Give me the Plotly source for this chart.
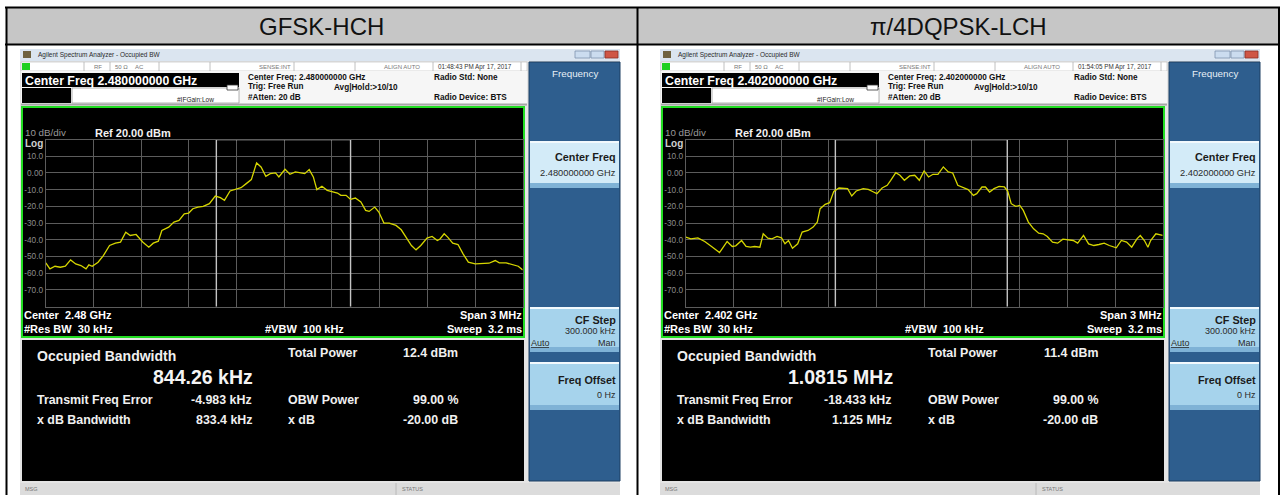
import plotly.graph_objects as go

W, H = 1284, 495
FONT = "Arial, Liberation Sans, Helvetica, sans-serif"

# ---------------- data ----------------
panel_titles = ["GFSK-HCH", "π/4DQPSK-LCH"]
center_freq_text = ["2.480000000 GHz", "2.402000000 GHz"]
center_short = ["2.48 GHz", "2.402 GHz"]
timestamps = ["01:48:43 PM Apr 17, 2017", "01:54:05 PM Apr 17, 2017"]
total_power = ["12.4 dBm", "11.4 dBm"]
occupied_bw_text = ["844.26 kHz", "1.0815 MHz"]
freq_error_text = ["-4.983 kHz", "-18.433 kHz"]
xdb_bw_text = ["833.4 kHz", "1.125 MHz"]
obw_mhz = [0.84426, 1.0815]
freq_err_mhz = [-0.004983, -0.018433]

span_mhz = 3.0
ref_level_dbm = 20
bottom_level_dbm = -80
ytick_vals = [10, 0, -10, -20, -30, -40, -50, -60, -70]
ytick_text = ["10.0", "0.00", "-10.0", "-20.0", "-30.0", "-40.0", "-50.0", "-60.0", "-70.0"]

gfsk_offset_mhz = [
    -1.500, -1.474, -1.442, -1.409, -1.377, -1.344, -1.312, -1.279, -1.247, -1.229,
    -1.208, -1.171, -1.138, -1.099, -1.062, -1.030, -0.997, -0.969, -0.932, -0.889,
    -0.852, -0.824, -0.792, -0.770, -0.727, -0.694, -0.662, -0.629, -0.601, -0.575,
    -0.543, -0.510, -0.471, -0.434, -0.402, -0.376, -0.341, -0.304, -0.272, -0.239,
    -0.207, -0.174, -0.146, -0.116, -0.088, -0.055, -0.034, 0.005, 0.036, 0.070,
    0.107, 0.129, 0.157, 0.183, 0.205, 0.237, 0.270, 0.302, 0.335, 0.356,
    0.389, 0.417, 0.447, 0.482, 0.512, 0.534, 0.569, 0.595, 0.627, 0.660,
    0.703, 0.736, 0.768, 0.800, 0.829, 0.859, 0.898, 0.930, 0.963, 0.980,
    1.006, 1.028, 1.060, 1.093, 1.125, 1.158, 1.201, 1.244, 1.288, 1.327,
    1.353, 1.396, 1.439, 1.472, 1.500,
]
gfsk_level_dbm = [
    -53.8, -57.4, -55.8, -56.4, -55.8, -52.0, -54.4, -55.4, -57.4, -55.0,
    -55.8, -53.4, -49.4, -43.4, -42.0, -41.4, -35.4, -37.4, -36.8, -41.4,
    -44.4, -42.0, -40.8, -34.4, -32.4, -29.4, -28.4, -24.4, -24.0, -21.4,
    -20.4, -20.0, -18.4, -13.8, -14.8, -16.4, -10.8, -9.8, -8.8, -6.4,
    -4.0, 6.0, 3.6, -2.0, -0.4, 0.0, -2.4, 2.2, -0.8, 0.6,
    0.0, -0.4, 2.0, -2.4, -10.0, -8.0, -10.4, -11.0, -12.0, -13.4,
    -13.4, -15.8, -15.0, -17.4, -22.4, -23.0, -20.4, -23.4, -30.0, -30.0,
    -31.4, -34.0, -38.4, -43.4, -46.0, -43.4, -39.0, -38.0, -40.4, -39.5,
    -36.4, -38.4, -42.0, -42.8, -48.4, -53.4, -54.4, -54.0, -54.0, -52.4,
    -53.8, -53.8, -55.0, -55.8, -58.0,
]

dqpsk_offset_mhz = [
    -1.500, -1.468, -1.424, -1.381, -1.338, -1.288, -1.262, -1.240, -1.208, -1.186,
    -1.149, -1.121, -1.093, -1.067, -1.034, -1.013, -0.984, -0.958, -0.926, -0.898,
    -0.876, -0.854, -0.829, -0.796, -0.768, -0.731, -0.699, -0.673, -0.655, -0.623,
    -0.595, -0.569, -0.536, -0.504, -0.482, -0.456, -0.428, -0.384, -0.352, -0.319,
    -0.298, -0.265, -0.233, -0.211, -0.179, -0.153, -0.125, -0.092, -0.060, -0.031,
    -0.001, 0.027, 0.055, 0.086, 0.120, 0.151, 0.179, 0.211, 0.244, 0.276,
    0.309, 0.330, 0.363, 0.385, 0.411, 0.439, 0.471, 0.504, 0.525, 0.547,
    0.575, 0.601, 0.623, 0.655, 0.688, 0.720, 0.748, 0.774, 0.807, 0.839,
    0.872, 0.904, 0.937, 0.965, 1.002, 1.034, 1.067, 1.099, 1.132, 1.164,
    1.208, 1.240, 1.273, 1.305, 1.338, 1.359, 1.385, 1.407, 1.424, 1.457,
    1.500,
]
dqpsk_level_dbm = [
    -38.4, -39.4, -38.8, -41.0, -44.0, -47.6, -44.0, -41.0, -44.0, -43.6,
    -40.4, -44.0, -44.4, -44.0, -44.4, -36.4, -39.0, -39.4, -38.0, -38.8,
    -42.4, -40.4, -45.0, -42.4, -35.4, -34.4, -32.4, -29.4, -21.4, -18.8,
    -17.8, -11.0, -9.0, -9.4, -9.4, -13.8, -10.8, -9.4, -9.8, -11.4,
    -12.4, -9.0, -7.4, -4.4, 0.2, -1.4, -4.4, -1.8, -1.4, -4.4,
    1.2, -2.4, -0.8, -0.8, 3.6, 0.6, 0.0, -7.4, -8.8, -10.0,
    -13.4, -12.4, -8.4, -8.4, -11.4, -9.4, -8.0, -8.4, -10.8, -18.4,
    -20.0, -19.4, -22.4, -29.4, -33.4, -36.0, -36.4, -38.0, -41.4, -42.0,
    -39.6, -40.0, -40.4, -42.0, -37.4, -42.4, -43.4, -42.8, -42.0, -43.4,
    -44.8, -40.4, -41.4, -44.4, -39.4, -37.4, -40.4, -44.4, -40.4, -36.4,
    -37.4,
]
offsets = [gfsk_offset_mhz, dqpsk_offset_mhz]
levels = [gfsk_level_dbm, dqpsk_level_dbm]

# ---------------- helpers ----------------
shapes, annotations = [], []


def X(px):
    return px / W


def Y(py):
    return 1 - py / H


def rect(x0, y0, x1, y1, fill, line=None, lw=0, layer="below"):
    shapes.append(dict(type="rect", xref="paper", yref="paper",
                       x0=X(x0), x1=X(x1), y0=Y(y1), y1=Y(y0),
                       fillcolor=fill, layer=layer,
                       line=dict(width=lw, color=line or fill)))


def hline(x0, x1, y, color, w=1, layer="below"):
    shapes.append(dict(type="line", xref="paper", yref="paper",
                       x0=X(x0), x1=X(x1), y0=Y(y), y1=Y(y), layer=layer,
                       line=dict(width=w, color=color)))


def vline(x, y0, y1, color, w=1, layer="below"):
    shapes.append(dict(type="line", xref="paper", yref="paper",
                       x0=X(x), x1=X(x), y0=Y(y0), y1=Y(y1), layer=layer,
                       line=dict(width=w, color=color)))


def text(x, y, s, size, color="white", anchor="left", bold=False):
    if bold:
        s = "<b>" + s + "</b>"
    annotations.append(dict(x=X(x), y=Y(y), xref="paper", yref="paper", text=s,
                            showarrow=False, xanchor=anchor, yanchor="middle",
                            borderpad=0, font=dict(size=size, color=color, family=FONT)))


NB = "\u00a0"

# ---------------- table frame ----------------
rect(6, 8, 1279, 44, "#c6c6c6")
hline(5, 1280, 7.5, "black", 2)
hline(5, 1280, 44.5, "black", 2)
vline(6.5, 7, 495, "black", 2)
vline(1279, 7, 495, "black", 2)
vline(637.5, 7, 495, "black", 2)
text(321.5, 26.5, panel_titles[0], 24, "#111", "center")
text(958.5, 26.5, panel_titles[1], 24, "#111", "center")

fig = go.Figure()

GRID_L, GRID_R, GRID_T, GRID_B = 45.8, 522.7, 139.5, 306.7

for i in range(2):
    dx = 640 * i
    # analyzer background
    rect(20 + dx, 49, 620 + dx, 495, "#e4e4e4")
    # window title bar
    rect(20 + dx, 49, 620 + dx, 61, "#dbe5f0")
    rect(23 + dx, 51, 31 + dx, 58, "#6f6240")
    text(37 + dx, 54.5, "Agilent Spectrum Analyzer - Occupied BW", 6.5, "#2a2a2a")
    rect(575 + dx, 51, 590 + dx, 58, "#cbdcef", "#7f93ad", 0.8)
    rect(591 + dx, 51, 604 + dx, 58, "#cbdcef", "#7f93ad", 0.8)
    rect(605 + dx, 51, 618 + dx, 58, "#cf5646", "#8a2f25", 0.8)
    # status row
    rect(21 + dx, 62, 527 + dx, 71, "#ffffff", "#b8b8b8", 0.6)
    rect(22 + dx, 63, 30 + dx, 70, "#1fd01f")
    for sx in [84, 110, 159, 210, 294, 355, 433, 521]:
        vline(sx + dx, 62, 71, "#b0b0b0", 0.8)
    text(98 + dx, 66.8, "RF", 6, "#777", "center")
    text(114 + dx, 66.8, "50 Ω", 6, "#777")
    text(134 + dx, 66.8, "AC", 6, "#777")
    text(292 + dx, 66.8, "SENSE:INT", 6, "#777", "right")
    text(421 + dx, 66.8, "ALIGN AUTO", 6, "#777", "right")
    text(437 + dx, 66.8, timestamps[i], 6.3, "#333")
    # info area
    rect(21 + dx, 71, 527 + dx, 104, "#f6f6f6")
    rect(22 + dx, 73, 239 + dx, 87, "black")
    text(24 + dx, 80.5, "Center Freq " + center_freq_text[i], 12.3, "white", bold=True)
    rect(22 + dx, 88, 71 + dx, 103, "black")
    rect(72 + dx, 88, 239 + dx, 103, "#ffffff", "#a0a0a0", 0.8)
    text(215 + dx, 99.5, "#IFGain:Low", 6.5, "#222", "right")
    rect(227 + dx, 85, 238 + dx, 90, "#ffffff", "#333", 0.8)
    text(247 + dx, 77, "Center Freq: " + center_freq_text[i], 8.2, "#111", bold=True)
    text(247 + dx, 86.5, "Trig: Free Run", 8.2, "#111", bold=True)
    text(333 + dx, 87.5, "Avg|Hold:>10/10", 8.2, "#111", bold=True)
    text(247 + dx, 97, "#Atten: 20 dB", 8.2, "#111", bold=True)
    text(433 + dx, 77, "Radio Std: None", 8.2, "#111", bold=True)
    text(433 + dx, 97.5, "Radio Device: BTS", 8.2, "#111", bold=True)
    rect(21 + dx, 103.5, 527 + dx, 105.5, "#a6a6a6")
    # green framed trace window
    rect(22 + dx, 107, 524 + dx, 337, "black", "#22dd22", 2)
    text(24 + dx, 133, "10 dB/div", 9.8, "#9a9a9a")
    text(94 + dx, 132.5, "Ref 20.00 dBm", 11, "#f2f2f2", bold=True)
    text(24 + dx, 143, "Log", 10, "#d0d0d0", bold=True)
    text(23 + dx, 315, "Center" + NB + NB + center_short[i], 11, "white", bold=True)
    text(23 + dx, 329, "#Res BW" + NB + NB + "30 kHz", 11, "white", bold=True)
    text(264 + dx, 329, "#VBW" + NB + NB + "100 kHz", 11, "white", bold=True)
    text(523 + dx, 315, "Span 3 MHz", 11, "white", "right", bold=True)
    text(523 + dx, 329, "Sweep" + NB + NB + "3.2 ms", 11, "white", "right", bold=True)
    # measurement result area
    rect(22 + dx, 340, 524 + dx, 481, "black")
    text(36 + dx, 356, "Occupied Bandwidth", 14, "#f0f0f0", bold=True)
    text(254 + dx, 377, occupied_bw_text[i], 19.5, "#f4f4f4", "right", bold=True)
    text(36 + dx, 400, "Transmit Freq Error", 12.4, "#f0f0f0", bold=True)
    text(253 + dx, 400, freq_error_text[i], 12.4, "#f0f0f0", "right", bold=True)
    text(36 + dx, 420, "x dB Bandwidth", 12.4, "#f0f0f0", bold=True)
    text(253 + dx, 420, xdb_bw_text[i], 12.4, "#f0f0f0", "right", bold=True)
    text(287 + dx, 353, "Total Power", 12.4, "#f0f0f0", bold=True)
    text(459 + dx, 353, total_power[i], 12.4, "#f0f0f0", "right", bold=True)
    text(287 + dx, 400, "OBW Power", 12.4, "#f0f0f0", bold=True)
    text(459 + dx, 400, "99.00 %", 12.4, "#f0f0f0", "right", bold=True)
    text(287 + dx, 420, "x dB", 12.4, "#f0f0f0", bold=True)
    text(459 + dx, 420, "-20.00 dB", 12.4, "#f0f0f0", "right", bold=True)
    # message bar
    rect(20 + dx, 483, 620 + dx, 495, "#dcdcdc")
    vline(396 + dx, 483, 495, "#b0b0b0", 0.8)
    text(24 + dx, 489, "MSG", 5.5, "#777")
    text(401 + dx, 489, "STATUS", 5.5, "#777")
    # soft key panel
    rect(529 + dx, 62, 620 + dx, 481, "#2e5e8e", "#1d3f63", 1)
    text(575 + dx, 73, "Frequency", 9.8, "#e6eef6", "center")
    for (ky0, ky1, body) in [(141, 188, "#d3ebf8"), (307, 352, "#a6d3ec"), (362, 410, "#a6d3ec")]:
        rect(530 + dx, ky0, 619 + dx, ky1, body)
        rect(530 + dx, ky0, 619 + dx, ky0 + 2, "#f2f9fd")
        rect(530 + dx, ky1 - 5, 619 + dx, ky1, "#7fb2d6")
    text(617 + dx, 157, "Center Freq", 10.8, "#1b1b1b", "right", bold=True)
    text(617 + dx, 173, center_freq_text[i], 9.3, "#2a2a2a", "right")
    text(617 + dx, 320, "CF Step", 10.8, "#1b1b1b", "right", bold=True)
    text(617 + dx, 331, "300.000 kHz", 9, "#2a2a2a", "right")
    text(530 + dx, 342.5, "Auto", 9, "#2a2a2a")
    hline(531 + dx, 549 + dx, 347.5, "#2a2a2a", 0.8)
    text(617 + dx, 342.5, "Man", 9, "#2a2a2a", "right")
    text(617 + dx, 380, "Freq Offset", 10.8, "#1b1b1b", "right", bold=True)
    text(617 + dx, 395, "0 Hz", 9, "#2a2a2a", "right")

    # ---- trace subplot ----
    xa = "x" if i == 0 else "x2"
    ya = "y" if i == 0 else "y2"
    fig.add_trace(go.Scatter(x=offsets[i], y=levels[i], mode="lines",
                             line=dict(color="#d6d600", width=1.3),
                             xaxis=xa, yaxis=ya, hoverinfo="skip", showlegend=False))
    lo = freq_err_mhz[i] - obw_mhz[i] / 2
    hi = freq_err_mhz[i] + obw_mhz[i] / 2
    for fx in (lo, hi):
        shapes.append(dict(type="line", xref=xa, yref=ya, x0=fx, x1=fx,
                           y0=bottom_level_dbm, y1=ref_level_dbm, layer="between",
                           line=dict(color="#c4c4c4", width=1.4)))
    shapes.append(dict(type="line", xref=xa, yref=ya, x0=lo, x1=hi,
                       y0=ref_level_dbm, y1=ref_level_dbm, layer="between",
                       line=dict(color="#c4c4c4", width=1.6)))

axis_common = dict(range=[-span_mhz / 2, span_mhz / 2], tick0=-span_mhz / 2, dtick=span_mhz / 10,
                   showgrid=True, gridcolor="#5c5c5c", gridwidth=1, zeroline=False,
                   showticklabels=False, showline=True, mirror=True, linecolor="#5c5c5c",
                   linewidth=1, ticks="", fixedrange=True)
yaxis_common = dict(range=[bottom_level_dbm, ref_level_dbm], tickvals=ytick_vals, ticktext=ytick_text,
                    showgrid=True, gridcolor="#5c5c5c", gridwidth=1, zeroline=False,
                    showline=True, mirror=True, linecolor="#5c5c5c", linewidth=1, ticks="",
                    tickfont=dict(size=8.3, color="#8c8c8c", family=FONT), fixedrange=True)

fig.update_layout(
    width=W, height=H, margin=dict(l=0, r=0, t=0, b=0),
    paper_bgcolor="white", plot_bgcolor="black", showlegend=False,
    xaxis=dict(domain=[X(GRID_L), X(GRID_R)], anchor="y", **axis_common),
    yaxis=dict(domain=[Y(GRID_B), Y(GRID_T)], anchor="x", **yaxis_common),
    xaxis2=dict(domain=[X(GRID_L + 640), X(GRID_R + 640)], anchor="y2", **axis_common),
    yaxis2=dict(domain=[Y(GRID_B), Y(GRID_T)], anchor="x2", **yaxis_common),
    shapes=shapes, annotations=annotations,
)

fig.write_html("out.html", config={"displayModeBar": False},
               post_script="document.body.style.margin='0';")
